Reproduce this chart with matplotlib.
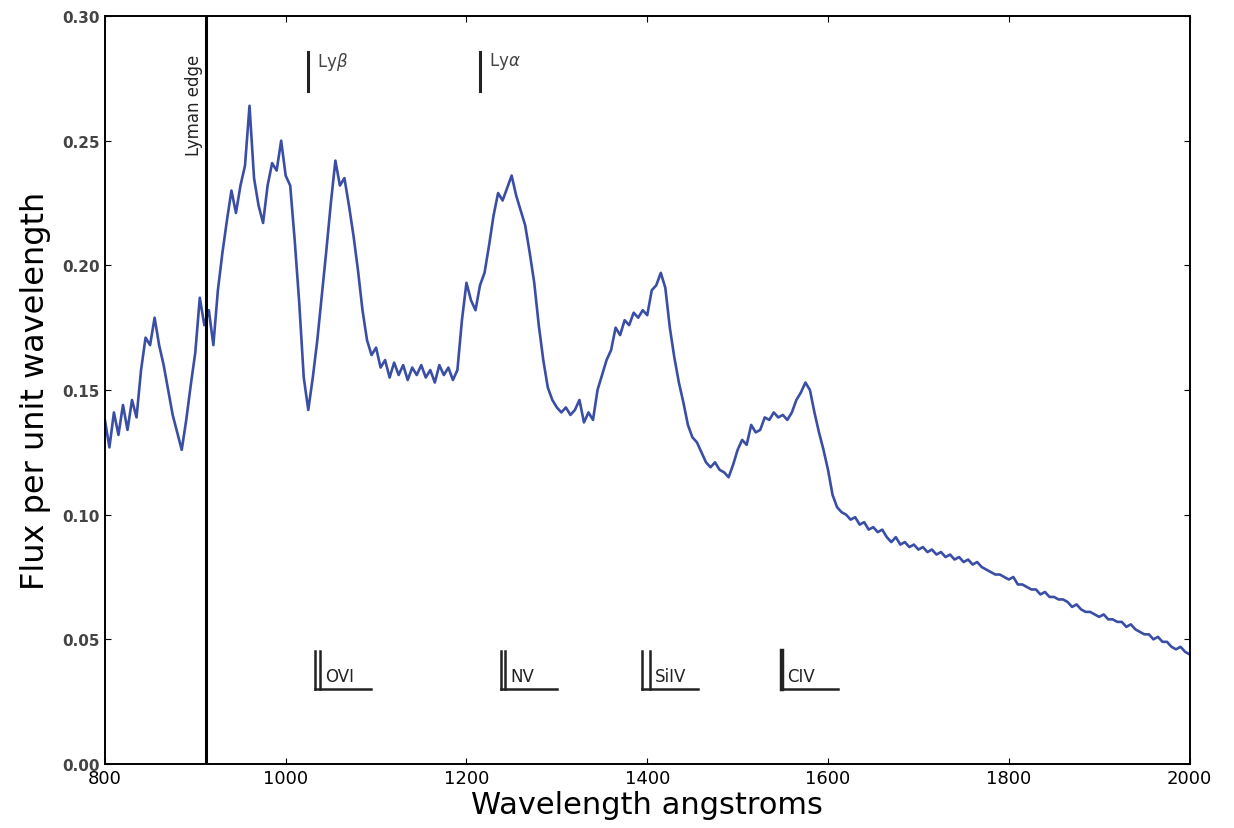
import numpy as np
from matplotlib import pyplot as plt

# wavelength grid (angstroms) and flux, 5 A steps
wave_start, wave_step = 800, 5
flux = [
    0.138, 0.127, 0.141, 0.132, 0.144, 0.134, 0.146, 0.139, 0.158, 0.171,   # 800
    0.168, 0.179, 0.168, 0.160, 0.150, 0.140, 0.133, 0.126, 0.138, 0.152,   # 850
    0.165, 0.187, 0.176, 0.182, 0.168, 0.190, 0.205, 0.218, 0.230, 0.221,   # 900
    0.232, 0.240, 0.264, 0.235, 0.224, 0.217, 0.232, 0.241, 0.238, 0.250,   # 950
    0.236, 0.232, 0.210, 0.185, 0.155, 0.142, 0.155, 0.170, 0.188, 0.206,   # 1000
    0.225, 0.242, 0.232, 0.235, 0.224, 0.212, 0.198, 0.182, 0.170, 0.164,   # 1050
    0.167, 0.159, 0.162, 0.155, 0.161, 0.156, 0.160, 0.154, 0.159, 0.156,   # 1100
    0.160, 0.155, 0.158, 0.153, 0.160, 0.156, 0.159, 0.154, 0.158, 0.178,   # 1150
    0.193, 0.186, 0.182, 0.192, 0.197, 0.208, 0.220, 0.229, 0.226, 0.231,   # 1200
    0.236, 0.228, 0.222, 0.216, 0.205, 0.193, 0.176, 0.162, 0.151, 0.146,   # 1250
    0.143, 0.141, 0.143, 0.140, 0.142, 0.146, 0.137, 0.141, 0.138, 0.150,   # 1300
    0.156, 0.162, 0.166, 0.175, 0.172, 0.178, 0.176, 0.181, 0.179, 0.182,   # 1350
    0.180, 0.190, 0.192, 0.197, 0.191, 0.175, 0.163, 0.153, 0.145, 0.136,   # 1400
    0.131, 0.129, 0.125, 0.121, 0.119, 0.121, 0.118, 0.117, 0.115, 0.120,   # 1450
    0.126, 0.130, 0.128, 0.136, 0.133, 0.134, 0.139, 0.138, 0.141, 0.139,   # 1500
    0.140, 0.138, 0.141, 0.146, 0.149, 0.153, 0.150, 0.141, 0.133, 0.126,   # 1550
    0.118, 0.108, 0.103, 0.101, 0.100, 0.098, 0.099, 0.096, 0.097, 0.094,   # 1600
    0.095, 0.093, 0.094, 0.091, 0.089, 0.091, 0.088, 0.089, 0.087, 0.088,   # 1650
    0.086, 0.087, 0.085, 0.086, 0.084, 0.085, 0.083, 0.084, 0.082, 0.083,   # 1700
    0.081, 0.082, 0.080, 0.081, 0.079, 0.078, 0.077, 0.076, 0.076, 0.075,   # 1750
    0.074, 0.075, 0.072, 0.072, 0.071, 0.070, 0.070, 0.068, 0.069, 0.067,   # 1800
    0.067, 0.066, 0.066, 0.065, 0.063, 0.064, 0.062, 0.061, 0.061, 0.060,   # 1850
    0.059, 0.060, 0.058, 0.058, 0.057, 0.057, 0.055, 0.056, 0.054, 0.053,   # 1900
    0.052, 0.052, 0.050, 0.051, 0.049, 0.049, 0.047, 0.046, 0.047, 0.045,   # 1950
    0.044,                                                                  # 2000
]
wave = wave_start + wave_step * np.arange(len(flux))

# Lyman markers at top
lyman_edge = 912
ly_names = ['Ly$\\beta$', 'Ly$\\alpha$']
ly_waves = [1025, 1215]

# ion markers at bottom
ion_names = ['OVI', 'NV', 'SiIV', 'CIV']
ion_waves = [[1032, 1038], [1238, 1243], [1394, 1403], [1549]]

fig = plt.figure(figsize=(12.34, 8.29), dpi=100)
ax = fig.add_axes([0.085, 0.0772, 0.879, 0.9023])

ax.plot(wave, flux, color='#3a4ea6', lw=1.9)

ax.axvline(lyman_edge, color='black', lw=2.2)
ax.text(lyman_edge - 3, 0.285, 'Lyman edge', rotation=90, ha='right', va='top',
        fontsize=12, color='#222222')

for name, w in zip(ly_names, ly_waves):
    ax.plot([w, w], [0.270, 0.2855], color='#222222', lw=2.2)
    ax.text(w + 10, 0.2865, name, ha='left', va='top', fontsize=12, color='#444444')

for name, ws in zip(ion_names, ion_waves):
    lw = 3.2 if len(ws) == 1 else 1.8
    for w in ws:
        ax.plot([w, w], [0.030, 0.0455], color='#222222', lw=lw)
    ax.plot([ws[0], ws[0] + 62], [0.030, 0.030], color='#222222', lw=1.8)
    ax.text(ws[-1] + 6, 0.0315, name, ha='left', va='bottom', fontsize=12,
            color='#222222')

ax.set_xlim(800, 2000)
ax.set_ylim(0, 0.30)
ax.set_xticks(np.arange(800, 2001, 200))
ax.set_yticks(np.arange(0, 0.301, 0.05))
ax.set_yticklabels([f'{v:.2f}' for v in np.arange(0, 0.301, 0.05)],
                   fontsize=11, fontweight='bold', color='#444444')
ax.set_xticklabels([str(v) for v in range(800, 2001, 200)], fontsize=13)
ax.tick_params(direction='in', length=4, top=True, right=True)
for s in ax.spines.values():
    s.set_linewidth(1.4)

ax.set_xlabel('Wavelength angstroms', fontsize=22, labelpad=2)
ax.set_ylabel('Flux per unit wavelength', fontsize=23, labelpad=8)

fig.savefig('out.png', dpi=100, facecolor='white')
